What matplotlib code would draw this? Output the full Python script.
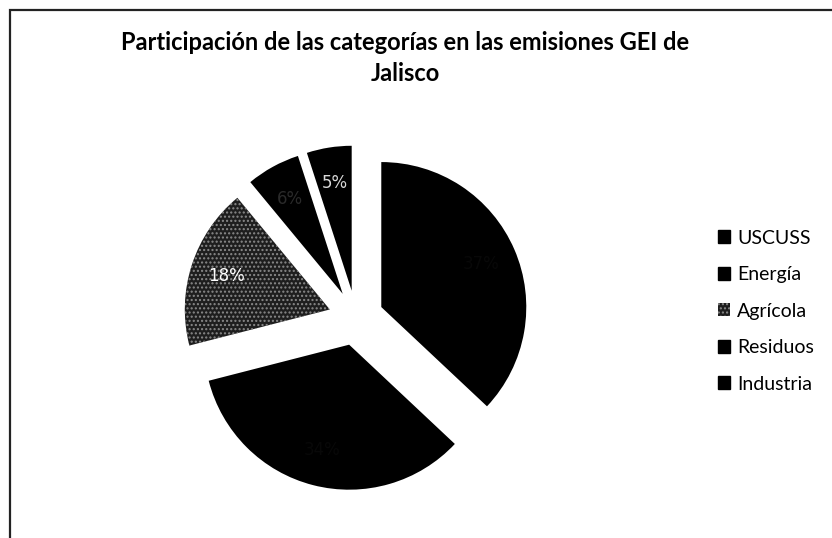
import matplotlib
matplotlib.use("Agg")
import matplotlib.pyplot as plt
from matplotlib.patches import Rectangle, Patch

# ----------------------------
# Data
# ----------------------------
categories = ['USCUSS', 'Energía', 'Agrícola', 'Residuos', 'Industria']
shares = [37, 34, 18, 6, 5]
title = 'Participación de las categorías en las emisiones GEI de\nJalisco'

# ----------------------------
# Figure
# ----------------------------
W, H = 832, 538
fig = plt.figure(figsize=(W / 100, H / 100), dpi=100)
fig.patch.set_facecolor('white')

# frame of the chart area (top and left lines visible in the scan)
fig.patches.append(Rectangle((10 / W, -0.05), 1.2, (H - 10) / H + 0.05,
                             transform=fig.transFigure, fill=False,
                             edgecolor='#222222', linewidth=1.6))

# pie axes: centre ~ (356, 318) px, radius ~ 145 px
r_px = 145
cx, cy = 356, 318
side = 3 * r_px
ax = fig.add_axes([(cx - side / 2) / W, (H - cy - side / 2) / H, side / W, side / H])

explode = [0.19] * len(shares)
wedges, texts, autotexts = ax.pie(
    shares, explode=explode, startangle=90, counterclock=False,
    colors=['black'] * len(shares), autopct='%d%%', pctdistance=0.75,
    radius=1.0, frame=False,
    textprops=dict(fontsize=12, family='DejaVu Sans'))

ax.set_xlim(-1.5, 1.5)
ax.set_ylim(-1.5, 1.5)
ax.set_aspect('equal')
ax.axis('off')

# Agrícola looks like a dithered grey in the scan
wedges[2].set_facecolor('#1e1e1e')
wedges[2].set_hatch('....')
wedges[2].set_edgecolor('#8a8a8a')
wedges[2].set_linewidth(0)

label_colors = ['#080808', '#080808', 'white', '#2a2a2a', '#d8d8d8']
for t, c in zip(autotexts, label_colors):
    t.set_color(c)

# ----------------------------
# Title
# ----------------------------
fig.text(405 / W, 1 - 58 / H, title, ha='center', va='center',
         fontsize=17, fontweight='bold', family='Lato', linespacing=1.4)

# ----------------------------
# Legend
# ----------------------------
handles = []
for i, name in enumerate(categories):
    if i == 2:
        handles.append(Patch(facecolor='#1e1e1e', edgecolor='#8a8a8a',
                             hatch='....', linewidth=0, label=name))
    else:
        handles.append(Patch(facecolor='black', edgecolor='black', label=name))

fig.legend(handles=handles, loc='upper left',
           bbox_to_anchor=(710 / W, 1 - 222 / H), frameon=False,
           prop=dict(family='Lato', size=14), handlelength=0.65,
           handleheight=0.65, handletextpad=0.35, labelspacing=1.0,
           borderaxespad=0)

fig.savefig('out.png', dpi=100, facecolor='white')
